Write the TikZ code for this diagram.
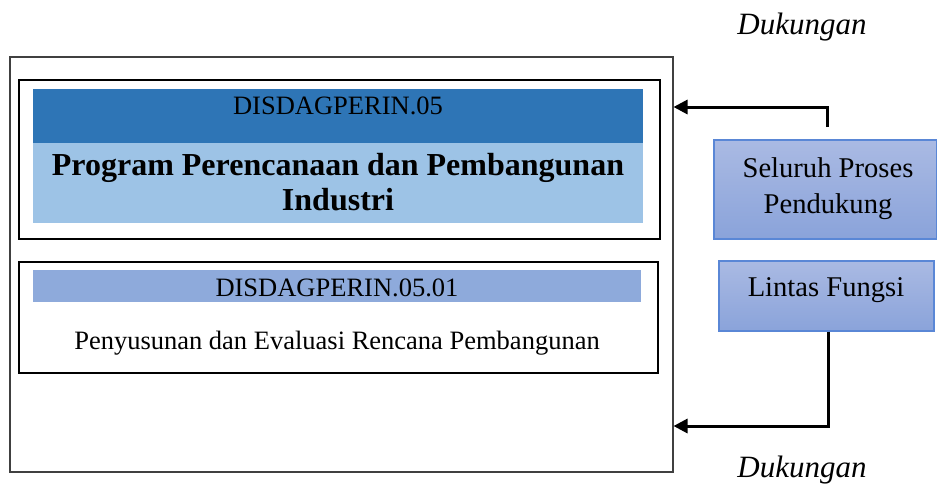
\documentclass[tikz,border=0pt]{standalone}
\usepackage{fontspec}
\setmainfont{Liberation Serif}
\usetikzlibrary{arrows.meta}

\definecolor{frame}{HTML}{404040}
\definecolor{progdark}{HTML}{2E75B6}
\definecolor{proglight}{HTML}{9DC3E6}
\definecolor{subband}{HTML}{8EAADB}
\definecolor{sidetop}{HTML}{AABAE3}
\definecolor{sidebot}{HTML}{8AA3DA}
\definecolor{sideline}{HTML}{5A87D6}

\tikzset{
  outerframe/.style={draw=frame, line width=1.5pt},
  innerframe/.style={draw=black, line width=1.5pt},
  sidebox/.style={draw=sideline, line width=1.5pt, top color=sidetop, bottom color=sidebot,
    inner sep=0pt},
  flow/.style={line width=3pt, -{Triangle[length=14pt,width=14pt]}},
  lbl/.style={inner sep=0pt, anchor=base},
  sidelbl/.style={inner sep=0pt, anchor=base, font=\fontsize{28.6}{35}\selectfont},
  supportlbl/.style={inner sep=0pt, anchor=base, font=\fontsize{31}{36}\selectfont\itshape},
}

\begin{document}
\begin{tikzpicture}[x=1pt, y=-1pt]
  \useasboundingbox (0,0) rectangle (937,483);

  % main frame
  \node[outerframe, inner sep=0pt, minimum width=663pt, minimum height=415pt, anchor=north west]
    (main) at (9,56) {};

  % programme box
  \node[innerframe, inner sep=0pt, minimum width=641pt, minimum height=159pt, anchor=north west]
    (prog) at (18,79) {};
  \fill[progdark] (33,89) rectangle (643,143);
  \fill[proglight] (33,143) rectangle (643,223);
  \node[lbl, font=\fontsize{26.5}{32}\selectfont] (progcode) at (338,114) {DISDAGPERIN.05};
  \node[lbl, font=\fontsize{32}{38}\selectfont\bfseries] (progname1) at (338,175)
    {Program Perencanaan dan Pembangunan};
  \node[lbl, font=\fontsize{32}{38}\selectfont\bfseries] (progname2) at (338,210) {Industri};

  % activity box
  \node[innerframe, inner sep=0pt, minimum width=639pt, minimum height=111pt, anchor=north west]
    (act) at (18,261) {};
  \fill[subband] (33,270) rectangle (641,302);
  \node[lbl, font=\fontsize{26.5}{32}\selectfont] (actcode) at (337,296) {DISDAGPERIN.05.01};
  \node[lbl, font=\fontsize{26.5}{32}\selectfont] (actname) at (337,349)
    {Penyusunan dan Evaluasi Rencana Pembangunan};

  % supporting boxes
  \node[sidebox, minimum width=223pt, minimum height=99pt, anchor=north west]
    (support) at (713,139) {};
  \node[sidelbl] at (828,177) {Seluruh Proses};
  \node[sidelbl] at (828,213) {Pendukung};
  \node[sidebox, minimum width=215pt, minimum height=70pt, anchor=north west]
    (cross) at (718,260) {};
  \node[sidelbl] at (826,296) {Lintas Fungsi};

  % support arrows into the main frame
  \coordinate (topstart) at (827,127);
  \draw[flow] (topstart) |- (main.east |- 0,107);
  \draw[flow] (cross.south -| 828,0) |- (main.east |- 0,426);

  \node[supportlbl] (dtop) at (802,34) {Dukungan};
  \node[supportlbl] (dbot) at (802,477) {Dukungan};
\end{tikzpicture}
\end{document}
